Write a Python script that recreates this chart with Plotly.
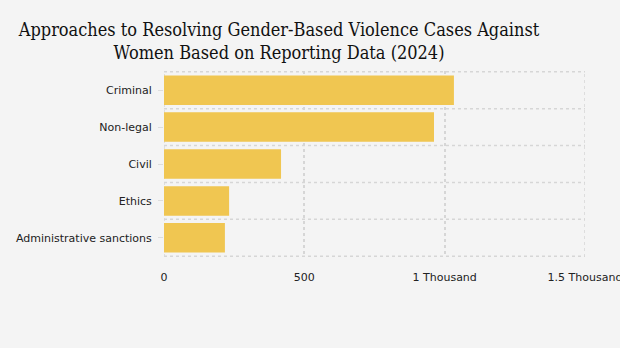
import plotly.graph_objects as go

# Case counts by resolution approach (2024)
categories = ["Criminal", "Non-legal", "Civil", "Ethics", "Administrative sanctions"]
cases = [1033, 962, 417, 232, 217]

x_tick_values = [0, 500, 1000, 1500]
x_tick_labels = ["0", "500", "1 Thousand", "1.5 Thousand"]

BG = "#f4f4f4"
BAR = "#f0c651"
GRID = "#d6d6d6"
TICK_FONT = dict(family="DejaVu Sans", size=11, color="#222222")
TITLE_FONT = dict(family="DejaVu Serif Condensed", size=18, color="#111111")

fig = go.Figure(
    go.Bar(
        x=cases,
        y=categories,
        orientation="h",
        marker=dict(color=BAR, line=dict(width=0)),
        width=0.8,
    )
)

# dotted horizontal separators between category bands
n = len(categories)
for i in range(n + 1):
    fig.add_shape(
        type="line", xref="x", yref="y",
        x0=0, x1=x_tick_values[-1], y0=i - 0.5, y1=i - 0.5,
        line=dict(color=GRID, width=1.5, dash="dot"), layer="below",
    )
# dotted vertical lines at the range edges
for xv in (x_tick_values[0], x_tick_values[-1]):
    fig.add_shape(
        type="line", xref="x", yref="paper",
        x0=xv, x1=xv, y0=0, y1=1,
        line=dict(color=GRID, width=1.5, dash="dot"), layer="below",
    )

fig.update_layout(
    width=620, height=348,
    paper_bgcolor=BG, plot_bgcolor=BG,
    margin=dict(l=164, r=35, t=71, b=91, autoexpand=False),
    showlegend=False,
    bargap=0.2,
    title=dict(
        text="Approaches to Resolving Gender-Based Violence Cases Against<br>"
             "Women Based on Reporting Data (2024)",
        xref="container", yref="container",
        x=279 / 620, xanchor="center",
        y=1 - 36 / 348, yanchor="top",
        font=TITLE_FONT,
    ),
    xaxis=dict(
        range=[0, x_tick_values[-1]],
        tickvals=x_tick_values, ticktext=x_tick_labels,
        showgrid=True, gridcolor=GRID, griddash="dot", gridwidth=1.5,
        zeroline=False, showline=False,
        ticks="outside", ticklen=10, tickcolor="rgba(0,0,0,0)",
        ticklabeloverflow="allow", automargin=False,
        tickfont=TICK_FONT,
    ),
    yaxis=dict(
        autorange="reversed",
        showgrid=False, zeroline=False, showline=False,
        ticks="outside", ticklen=5, tickcolor="#dddddd",
        ticklabelstandoff=4, automargin=False,
        tickfont=TICK_FONT,
    ),
)

fig.write_html("out.html")
